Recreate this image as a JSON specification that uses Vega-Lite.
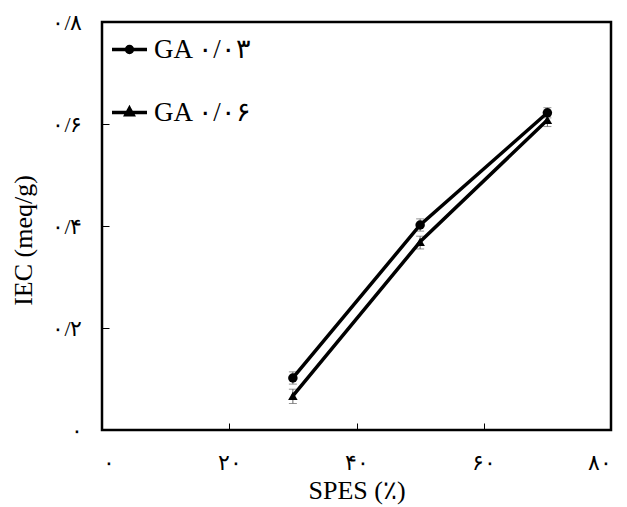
{
  "$schema": "https://vega.github.io/schema/vega-lite/v6.json",
  "autosize": "none",
  "width": 509,
  "height": 408,
  "padding": {"left": 102, "top": 22, "right": 16, "bottom": 77},
  "background": "white",
  "config": {
    "font": "Liberation Serif",
    "view": {"stroke": "black", "strokeWidth": 2.5},
    "axis": {"grid": false, "domain": false, "tickColor": "black", "tickSize": -7, "tickWidth": 1, "labelColor": "black", "titleColor": "black", "labelFont": "Liberation Serif", "titleFont": "Liberation Serif", "titleFontWeight": "normal"}
  },
  "data": {
    "values": [
      {"spes": 30, "series": "GA ٠/٠٣", "iec": 0.102, "lo": 0.09, "hi": 0.114},
      {"spes": 50, "series": "GA ٠/٠٣", "iec": 0.402, "lo": 0.39, "hi": 0.414},
      {"spes": 70, "series": "GA ٠/٠٣", "iec": 0.622, "lo": 0.612, "hi": 0.632},
      {"spes": 30, "series": "GA ٠/٠۶", "iec": 0.067, "lo": 0.052, "hi": 0.08},
      {"spes": 50, "series": "GA ٠/٠۶", "iec": 0.369, "lo": 0.355, "hi": 0.38},
      {"spes": 70, "series": "GA ٠/٠۶", "iec": 0.608, "lo": 0.595, "hi": 0.618}
    ]
  },
  "encoding": {
    "x": {"field": "spes", "type": "quantitative", "scale": {"domain": [0, 80], "nice": false},
      "axis": {"values": [0, 20, 40, 60, 80], "title": "SPES (٪)", "titleFontSize": 26, "titleColor": "black", "labelFontSize": 22, "labelPadding": 29, "titlePadding": 4,
        "labelExpr": "datum.value == 0 ? '٠' : datum.value == 20 ? '٢٠' : datum.value == 40 ? '۴٠' : datum.value == 60 ? '۶٠' : '٨٠'"}},
    "y": {"field": "iec", "type": "quantitative", "scale": {"domain": [0, 0.8], "nice": false},
      "axis": {"values": [0, 0.2, 0.4, 0.6, 0.8], "title": "IEC (meq/g)", "titleFontSize": 26, "titleColor": "black", "titleY": 218, "labelFontSize": 22, "labelPadding": 27, "titlePadding": 15,
        "labelExpr": "datum.value == 0 ? '٠' : datum.value < 0.3 ? '٠/٢' : datum.value < 0.5 ? '٠/۴' : datum.value < 0.7 ? '٠/۶' : '٠/٨'"}}
  },
  "layer": [
    {
      "mark": {"type": "errorbar", "ticks": {"size": 8}, "color": "#666", "thickness": 1},
      "encoding": {
        "y": {"field": "lo", "type": "quantitative"},
        "y2": {"field": "hi"},
        "detail": {"field": "series"}
      }
    },
    {
      "mark": {"type": "line", "color": "black", "strokeWidth": 3.5},
      "encoding": {"detail": {"field": "series", "type": "nominal"}}
    },
    {
      "mark": {"type": "point", "filled": true, "color": "black", "opacity": 1, "size": 90},
      "encoding": {
        "shape": {"field": "series", "type": "nominal",
          "scale": {"domain": ["GA ٠/٠٣", "GA ٠/٠۶"], "range": ["circle", "triangle-up"]},
          "legend": null}
      }
    },
    {
      "mark": {"type": "point", "filled": false, "color": "black", "opacity": 0, "size": 1},
      "encoding": {
        "shape": {"field": "series", "type": "nominal",
          "scale": {"domain": ["GA ٠/٠٣", "GA ٠/٠۶"], "range": [
            "M-1,0H1M-0.057,0A0.057,0.057,0,1,1,0.057,0A0.057,0.057,0,1,1,-0.057,0ZM-0.171,0A0.171,0.171,0,1,1,0.171,0A0.171,0.171,0,1,1,-0.171,0Z",
            "M-1,0H1M0,-0.23L0.2,0.13L-0.2,0.13ZM0,-0.06L0.04,0.05L-0.04,0.05Z"]},
          "legend": {"title": null, "orient": "top-left", "offset": 8, "padding": 0, "labelFontSize": 27, "labelFont": "Liberation Serif", "labelColor": "black", "symbolSize": 1225, "symbolStrokeWidth": 3.5, "symbolStrokeColor": "black", "symbolOpacity": 1, "labelOffset": 5, "rowPadding": 30}
        }
      }
    }
  ],
  "resolve": {"scale": {"shape": "independent"}, "legend": {"shape": "independent"}}
}
